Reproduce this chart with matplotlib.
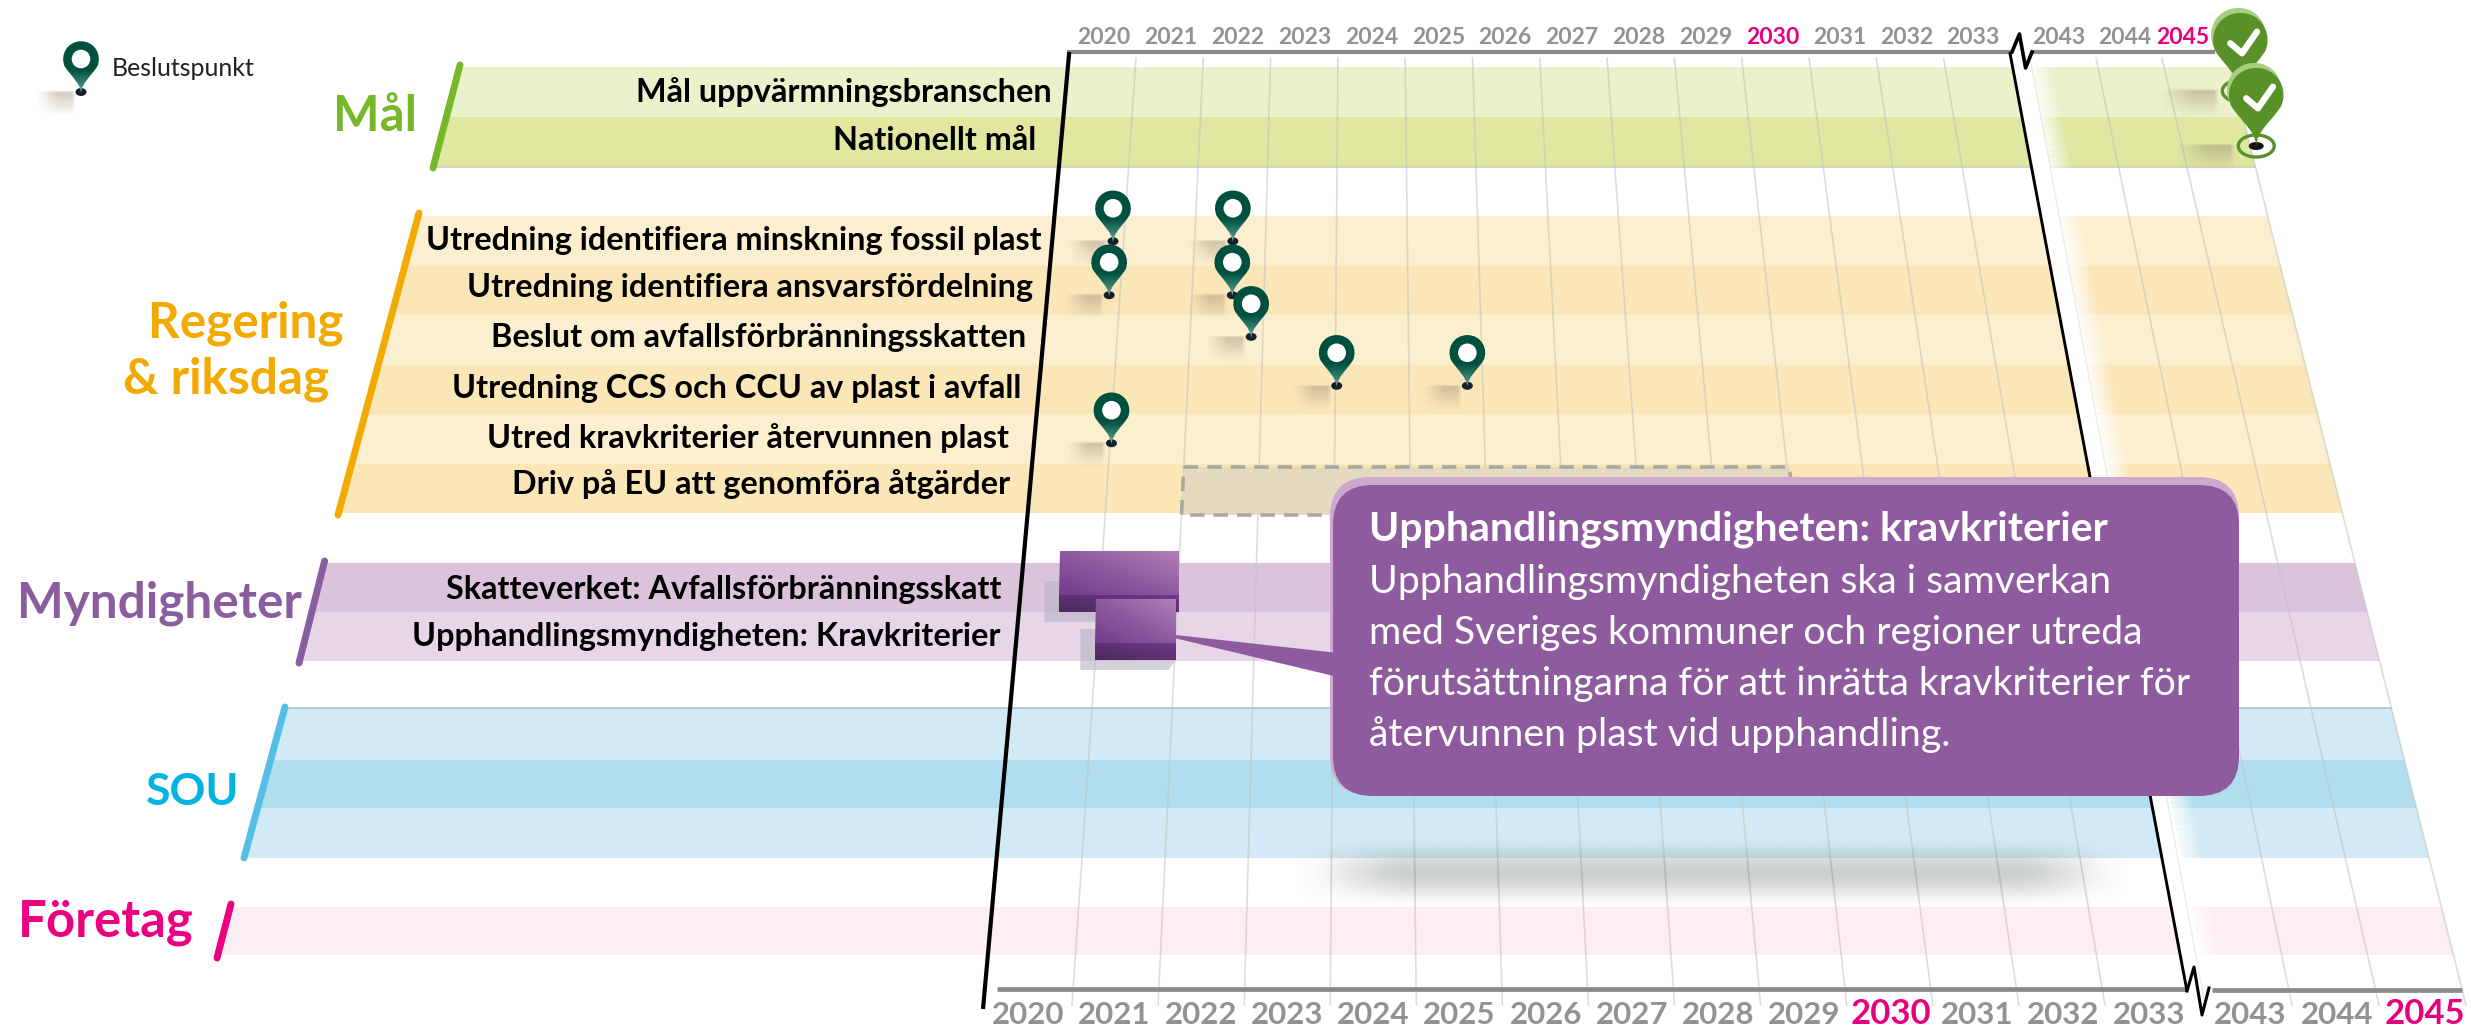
import numpy as np
import matplotlib
matplotlib.use('Agg')
import matplotlib.pyplot as plt
from matplotlib.path import Path
from matplotlib.patches import PathPatch, Polygon, Ellipse, FancyBboxPatch
from matplotlib.colors import to_rgb

# --- data
years_main = [2020, 2021, 2022, 2023, 2024, 2025, 2026, 2027, 2028, 2029, 2030, 2031, 2032, 2033]
years_late = [2043, 2044, 2045]
years_pink = [2030, 2045]

goal_rows = ['Mål uppvärmningsbranschen', 'Nationellt mål']
gov_rows = ['Utredning identifiera minskning fossil plast', 'Utredning identifiera ansvarsfördelning',
            'Beslut om avfallsförbränningsskatten', 'Utredning CCS och CCU av plast i avfall',
            'Utred kravkriterier återvunnen plast', 'Driv på EU att genomföra åtgärder']
agency_rows = ['Skatteverket: Avfallsförbränningsskatt', 'Upphandlingsmyndigheten: Kravkriterier']

# decision points: year on the time axis, row position in the government block
pin_years = [2020.85, 2022.54, 2020.85, 2022.56, 2022.84, 2024.02, 2025.79, 2021.02]
pin_rows = [0.51, 0.51, 1.6, 1.6, 2.44, 3.43, 3.43, 4.59]
goal_years = [2046.06, 2046.09]
goal_pos = [0.48, 1.58]

bar_start = [2020.5, 2021.0]
bar_end = [2022.03, 2022.02]
lobby_start = 2022.0
lobby_end = 2030.03

callout_title = 'Upphandlingsmyndigheten: kravkriterier'
callout_lines = ['Upphandlingsmyndigheten ska i samverkan',
                 'med Sveriges kommuner och regioner utreda',
                 'förutsättningarna för att inrätta kravkriterier för',
                 'återvunnen plast vid upphandling.']

# --- layout, in pixels of the picture
Y_TOP, Y_BOT = 58, 1005
GOAL_Y, GOV_Y, AGENCY_Y = 67, 216, 563
SOU_Y, COMPANY_Y = 708, 907
ROW_GOAL, ROW_GOV, ROW_AGENCY = 50, 49.5, 49

GREY = '#929292'
PINK = '#E6007E'
FONT = 'Lato'

plt.rcParams['font.family'] = [FONT, 'DejaVu Sans']

fig = plt.figure(figsize=(24.71, 10.27), dpi=100)
ax = fig.add_axes([0, 0, 1, 1])
ax.set_xlim(0, 2471)
ax.set_ylim(1027, 0)
ax.axis('off')
ax.set_autoscale_on(False)


def year_x(year, y):
    # the time grid is drawn in perspective, wider at the bottom
    f = (y - Y_TOP) / (Y_BOT - Y_TOP)
    if year < 2040:
        return 1136 + 67.3 * (year - 2021) + f * (-64 + 18.78 * (year - 2021))
    return 2030 + 66 * (year - 2043) + f * (175 + 21 * (year - 2043))


def left_x(y):
    return 463 - 0.277 * (y - 67)


def band(y0, y1, color, z=1):
    ax.add_patch(Polygon([(left_x(y0), y0), (year_x(2046, y0), y0), (year_x(2046, y1), y1), (left_x(y1), y1)],
                         closed=True, fc=color, ec='none', zorder=z))


def soft(x0, x1, y0, y1, color, peak, z, edge_x=0.15, edge_y=0.5):
    # blurred box, the big shadow below the callout
    xx = np.linspace(0, 1, 200)
    yy = np.linspace(0, 1, 60)
    ax_x = np.clip(np.minimum(xx, 1 - xx) / edge_x, 0, 1)
    ax_y = np.clip(np.minimum(yy, 1 - yy) / edge_y, 0, 1)
    a = np.outer(ax_y * ax_y * (3 - 2 * ax_y), ax_x * ax_x * (3 - 2 * ax_x)) * peak
    img = np.zeros((60, 200, 4))
    img[..., :3] = to_rgb(color)
    img[..., 3] = a
    ax.imshow(img, extent=(x0, x1, y1, y0), aspect='auto', zorder=z, interpolation='bilinear')


def blob(x0, x1, y0, y1, z, peak=0.5):
    # ground shadow of a pin: strongest at the top right, fades down and to the left
    xx = np.linspace(0, 1, 60)
    yy = np.linspace(0, 1, 40)
    fade_x = np.clip(xx / 0.55, 0, 1) * np.clip((1 - xx) / 0.1, 0, 1)
    fade_y = np.clip(yy / 0.1, 0, 1) * np.clip(1 - yy, 0, 1)
    img = np.zeros((40, 60, 4))
    img[..., :3] = to_rgb('#9A8B72')
    img[..., 3] = np.outer(fade_y, fade_x) * peak
    ax.imshow(img, extent=(x0, x1, y1, y0), aspect='auto', zorder=z, interpolation='bilinear')


def gradient(path, x0, x1, y0, y1, stops, z, diagonal=False):
    # fills a path with a colour ramp, top to bottom or corner to corner
    t = np.linspace(0, 1, 100)
    if diagonal:
        u = (np.add.outer(1 - t, t)) / 2
    else:
        u = np.repeat(t[:, None], 2, axis=1)
    pos = [s[0] for s in stops]
    img = np.zeros(u.shape + (3,))
    for c in range(3):
        img[..., c] = np.interp(u, pos, [to_rgb(s[1])[c] for s in stops])
    im = ax.imshow(img, extent=(x0, x1, y1, y0), aspect='auto', zorder=z, interpolation='bilinear')
    clip = PathPatch(path, transform=ax.transData, fc='none', ec='none')
    ax.add_patch(clip)
    im.set_clip_path(clip)


def pin_path(cx, tip, r, length):
    cy = tip - length
    verts = [(cx, tip),
             (cx - 1, tip - length * 0.3), (cx - r * 0.5, cy + r * 1.05), (cx - r * 0.92, cy + r * 0.42),
             (cx - r * 1.2, cy - r * 0.2), (cx - r * 0.8, cy - r), (cx, cy - r),
             (cx + r * 0.8, cy - r), (cx + r * 1.2, cy - r * 0.2), (cx + r * 0.92, cy + r * 0.42),
             (cx + r * 0.5, cy + r * 1.05), (cx + 1, tip - length * 0.3), (cx, tip), (cx, tip)]
    codes = [Path.MOVETO] + [Path.CURVE4] * 12 + [Path.CLOSEPOLY]
    return Path(verts, codes)


def teal_pin(cx, tip, z):
    blob(cx - 44, cx - 5, tip - 2, tip + 24, z - 0.005)
    ax.add_patch(Ellipse((cx, tip), 11, 8, fc='#14202A', ec='none', zorder=z))
    path = pin_path(cx, tip + 1, 17.7, 34)
    gradient(path, cx - 19, cx + 19, tip - 52, tip + 2,
             [(0, '#00503F'), (0.55, '#00503F'), (0.85, '#3E8A7C'), (1, '#A8CFC6')], z + 0.001)
    ax.add_patch(Ellipse((cx, tip - 33), 18.6, 18.6, fc='white', ec='none', zorder=z + 0.002))


def green_pin(cx, tip, z):
    blob(cx - 80, cx - 20, tip - 3, tip + 26, z - 0.005)
    ax.add_patch(Ellipse((cx, tip), 36, 22, fc='none', ec='#5A9028', lw=2.4, zorder=z))
    ax.add_patch(Ellipse((cx, tip), 15, 8, fc='#14141A', ec='none', zorder=z + 0.001))
    ax.add_patch(PathPatch(pin_path(cx - 2, tip - 6, 27, 50), fc='#A6CE7F', ec='none', zorder=z + 0.002))
    ax.add_patch(PathPatch(pin_path(cx, tip, 27, 51), fc='#5A9028', ec='none', zorder=z + 0.003))
    ax.plot([cx - 10, cx + 1.7, cx + 16.7], [tip - 47.7, tip - 37.7, tip - 59.3], color='white', lw=4.6,
            solid_capstyle='round', solid_joinstyle='round', zorder=z + 0.004)


# --- coloured bands
for k, c in enumerate(['#EBF1CB', '#DFE7A1']):
    band(GOAL_Y + k * ROW_GOAL, GOAL_Y + (k + 1) * ROW_GOAL, c)
for k in range(6):
    band(GOV_Y + k * ROW_GOV, GOV_Y + (k + 1) * ROW_GOV, ['#FCEFCF', '#FBE6B8'][k % 2])
for k, c in enumerate(['#DBC3DB', '#E7D5E8']):
    band(AGENCY_Y + k * ROW_AGENCY, AGENCY_Y + (k + 1) * ROW_AGENCY, c)
band(SOU_Y, 760, '#D2EAF5')
band(760, 808, '#B0DEEE')
band(808, 858, '#D2EAF5')
band(COMPANY_Y, 955, '#FDEEF3')
ax.plot([left_x(SOU_Y), year_x(2046, SOU_Y)], [SOU_Y, SOU_Y], color='#AFC3CA', lw=1.2, zorder=1.1)
ax.plot([left_x(167), year_x(2046, 167)], [167, 167], color='#CBD2B0', lw=1.2, zorder=1.1)

# --- time grid
for yr in years_main[1:] + years_late[1:] + [2046]:
    ax.plot([year_x(yr, Y_TOP), year_x(yr, Y_BOT)], [Y_TOP, Y_BOT], color='#BCC6BA', lw=1.2, alpha=0.55, zorder=2)

# white gap where the axis is broken
n = 22
for k in range(n):
    o0, o1 = 18 + k, 19 + k
    ax.add_patch(Polygon([(year_x(2034, 52) + o0, 52), (year_x(2034, 52) + o1, 52),
                          (year_x(2034, 992) + o1, 992), (year_x(2034, 992) + o0, 992)],
                         closed=True, fc='white', ec='none', alpha=1 - k / n, zorder=2.2))
ax.add_patch(Polygon([(year_x(2034, 52), 52), (year_x(2034, 52) + 18.5, 52),
                      (year_x(2034, 992) + 18.5, 992), (year_x(2034, 992), 992)],
                     closed=True, fc='white', ec='none', zorder=2.2))
ax.plot([year_x(2043, Y_TOP), year_x(2043, Y_BOT)], [Y_TOP, Y_BOT], color='#DDE0DD', lw=1, alpha=0.6, zorder=2.3)

# --- axes with their break marks
ax.plot([1067, 2013], [52, 52], color='#8E8A8B', lw=3, solid_capstyle='butt', zorder=3)
ax.plot([2032, 2215], [52, 52], color='#8E8A8B', lw=3, solid_capstyle='butt', zorder=3)
ax.plot([997, 2187], [989, 989], color='#8E8A8B', lw=3.4, solid_capstyle='butt', zorder=3)
ax.plot([2212, 2462], [990, 990], color='#8E8A8B', lw=3.4, solid_capstyle='butt', zorder=3)
ax.plot([year_x(2020, 52), 983], [52, 1009], color='black', lw=3, solid_capstyle='butt', zorder=3.5)
ax.plot([year_x(2034, 52), 2187], [52, 991], color='black', lw=2.1, solid_capstyle='butt', zorder=3.5)
ax.plot([2012, 2019.4, 2025.6, 2032], [52, 34, 68, 52], color='black', lw=2.6, zorder=3.6)
ax.plot([2187, 2194, 2202, 2209], [991, 967, 1015, 988], color='black', lw=2.2, zorder=3.6)

for yr in years_main + years_late:
    col = PINK if yr in years_pink else GREY
    xt = (year_x(yr, 36) + year_x(yr + 1, 36)) / 2
    xb = (year_x(yr, 1014) + year_x(yr + 1, 1014)) / 2
    if yr == 2045:
        xt -= 7  # sits tight against the goal pin
    ax.text(xt, 44, str(yr), color=col, fontsize=16.5, fontweight='bold', ha='center', va='baseline', zorder=7.6)
    ax.text(xb, 1024, str(yr), color=col, fontsize=25 if yr in years_pink else 22.5, fontweight='bold',
            ha='center', va='baseline', zorder=4)

# --- group names and their slanted strokes
strokes = [((460, 65), (433, 168), '#76B82A'), ((419, 213), (338, 515), '#F2A900'),
           ((324.6, 561), (299, 663), '#8A5E9E'), ((285, 707), (244, 858), '#55BEE6'),
           ((231, 904), (217, 958), '#EC007F')]
for a, b, c in strokes:
    ax.plot([a[0], b[0]], [a[1], b[1]], color=c, lw=5, solid_capstyle='round', zorder=3)

ax.text(417, 131, 'Mål', color='#76B82A', fontsize=35.5, fontweight='bold', ha='right', va='baseline')
ax.text(246, 338, 'Regering', color='#F2A900', fontsize=35.6, fontweight='bold', ha='center', va='baseline')
ax.text(226, 394, '& riksdag', color='#F2A900', fontsize=35.6, fontweight='bold', ha='center', va='baseline')
ax.text(159, 617, 'Myndigheter', color='#8A5E9E', fontsize=35.6, fontweight='bold', ha='center', va='baseline')
ax.text(193, 805, 'SOU', color='#00B4E1', fontsize=32, fontweight='bold', ha='center', va='baseline')
ax.text(106, 937, 'Företag', color='#EC007F', fontsize=36.6, fontweight='bold', ha='center', va='baseline')

# --- row labels
goal_right, goal_base = [1052, 1036], [102, 150]
gov_right, gov_base = [1042, 1033, 1026, 1021, 1009, 1010], [250, 297, 347, 398, 448, 494]
agency_right, agency_base = [1001, 1001], [599, 646]
for names, rights, bases in [(goal_rows, goal_right, goal_base), (gov_rows, gov_right, gov_base),
                             (agency_rows, agency_right, agency_base)]:
    for name, xr, yb in zip(names, rights, bases):
        ax.text(xr, yb, name, color='black', fontsize=23.3, fontweight='bold', ha='right', va='baseline', zorder=4)

# --- dashed box for the EU row
y0, y1 = 467, 515
box = Polygon([(year_x(lobby_start, y0), y0), (year_x(lobby_end, y0), y0),
               (year_x(lobby_end, y1), y1), (year_x(lobby_start, y1), y1)],
              closed=True, fc='#E3DAC0', ec='#A9A9A0', lw=2.6, ls=(0, (4, 2.5)), zorder=3)
ax.add_patch(box)

# --- 3D blocks for the agency rows
block_top = [551, 599]
block_mid = [595, 643]
block_bot = [612, 660]
for k in range(2):
    xl = year_x(bar_start[k], block_bot[k])
    xr = year_x(bar_end[k], block_bot[k])
    ax.add_patch(Polygon([(xl - 15, block_top[k] + 30), (xl - 15, block_bot[k] + 10), (xr - 8, block_bot[k] + 10),
                          (xr, block_bot[k]), (xl, block_top[k] + 30)],
                         closed=True, fc='#B9B3C2', ec='none', alpha=0.6, zorder=4.5 + k))
    face = Path([(xl + 1, block_top[k]), (xr, block_top[k]), (xr, block_mid[k]), (xl, block_mid[k]), (xl + 1, block_top[k])],
                [Path.MOVETO, Path.LINETO, Path.LINETO, Path.LINETO, Path.CLOSEPOLY])
    gradient(face, xl, xr, block_top[k], block_mid[k], [(0, '#733A8E'), (0.5, '#8E5A9F'), (1, '#B27FB8')],
             4.6 + k, diagonal=True)
    front = Path([(xl, block_mid[k]), (xr, block_mid[k]), (xr, block_bot[k]), (xl, block_bot[k]), (xl, block_mid[k])],
                 [Path.MOVETO, Path.LINETO, Path.LINETO, Path.LINETO, Path.CLOSEPOLY])
    gradient(front, xl, xr, block_mid[k], block_bot[k], [(0, '#4C2A5C'), (1, '#70388A')], 4.7 + k, diagonal=True)

# --- decision points
for k, (yr, rw) in enumerate(zip(pin_years, pin_rows)):
    tip = GOV_Y + rw * ROW_GOV
    teal_pin(year_x(yr, tip), tip, 7 + k * 0.05)

for k, (yr, rw) in enumerate(zip(goal_years, goal_pos)):
    tip = GOAL_Y + rw * ROW_GOAL
    green_pin(year_x(yr, tip), tip, 7.5 + k * 0.05)

# --- legend
teal_pin(81, 92, 7.4)
ax.text(112, 76, 'Beslutspunkt', color='#222222', fontsize=17.9, ha='left', va='baseline')

# --- callout
soft(1285, 2140, 835, 910, '#46564F', 0.28, 6)
ax.add_patch(FancyBboxPatch((1370, 517), 829, 238, boxstyle='round,pad=40,rounding_size=40',
                            fc='#CDA9CF', ec='none', zorder=8))
ax.add_patch(FancyBboxPatch((1373, 525), 826, 231, boxstyle='round,pad=40,rounding_size=40',
                            fc='#8F5B9F', ec='none', zorder=8.1))
ax.add_patch(Polygon([(1149, 632), (1338, 653), (1338, 677)], closed=True, fc='#8F5B9F', ec='none', zorder=8.1))
ax.text(1369, 540, callout_title, color='white', fontsize=29.5, fontweight='bold', ha='left', va='baseline', zorder=9)
for k, line in enumerate(callout_lines):
    ax.text(1369, 593 + k * 51, line, color='white', fontsize=28.3, ha='left', va='baseline', zorder=9)

fig.savefig('out.png', dpi=100)
